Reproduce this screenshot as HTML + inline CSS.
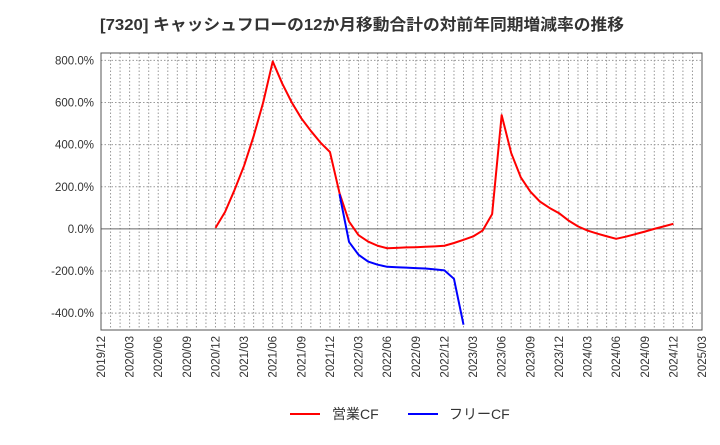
<!DOCTYPE html>
<html><head><meta charset="utf-8"><style>
body{margin:0;background:#fff;font-family:"Liberation Sans","Noto Sans CJK JP",sans-serif;}
</style></head><body>
<svg width="720" height="440" xmlns="http://www.w3.org/2000/svg" id="c" font-family="Liberation Sans, Noto Sans CJK JP, sans-serif">
<text x="100" y="30" font-size="16" font-weight="bold" fill="#333" textLength="524" lengthAdjust="spacingAndGlyphs">[7320]  キャッシュフローの12か月移動合計の対前年同期増減率の推移</text>
<g id="grid"></g><g id="axes"></g><g id="series"></g>
<g>
<line x1="290" y1="414" x2="320" y2="414" stroke="#f00" stroke-width="2"/>
<text x="332" y="419" font-size="14" fill="#333">営業CF</text>
<line x1="408" y1="414" x2="438" y2="414" stroke="#00f" stroke-width="2"/>
<text x="449" y="419" font-size="14" fill="#333">フリーCF</text>
</g>
</svg>
<script>
const xLabels=["2019/12","2020/03","2020/06","2020/09","2020/12","2021/03","2021/06","2021/09","2021/12","2022/03","2022/06","2022/09","2022/12","2023/03","2023/06","2023/09","2023/12","2024/03","2024/06","2024/09","2024/12","2025/03"];
const yTicks=[800,600,400,200,0,-200,-400];
const opStart=12;
const opValues=[5,80,185,300,440,600,795,690,600,525,465,410,365,170,35,-30,-60,-80,-92,-90,-88,-87,-85,-83,-80,-67,-52,-36,-8,70,540,360,245,177,130,100,75,40,12,-8,-22,-35,-47,-37,-25,-13,0,12,24];
const fcfStart=25;
const fcfValues=[165,-62,-123,-155,-170,-180,-182,-184,-186,-188,-192,-197,-237,-455];
const L=101,R=702,T=53,B=330,ymin=-480,ymax=835,nM=63;
const X=m=>L+(R-L)*m/nM, Y=v=>B-(B-T)*(v-ymin)/(ymax-ymin);
const ns="http://www.w3.org/2000/svg";
function mk(p,t,a){const e=document.createElementNS(ns,t);for(const k in a)e.setAttribute(k,a[k]);p.appendChild(e);return e;}
const g=document.getElementById('grid'),ax=document.getElementById('axes'),s=document.getElementById('series');
for(let m=1;m<nM;m++){const l=mk(g,'line',{x1:X(m),x2:X(m),y1:T,y2:B,stroke:'#999','stroke-dasharray':'1.5,2','stroke-width':1});

}
yTicks.forEach(v=>{const l=mk(g,'line',{x1:L,x2:R,y1:Y(v),y2:Y(v),stroke:v===0?'#666':'#999','stroke-dasharray':v===0?'none':'1.5,2','stroke-width':1});


const t=mk(ax,'text',{x:L-7,y:Y(v)+4,'text-anchor':'end','font-size':11.5,fill:'#333'});t.textContent=v.toFixed(1)+'%';

});
const fr=mk(ax,'rect',{x:L,y:T,width:R-L,height:B-T,fill:'none',stroke:'#555'});


xLabels.forEach((lb,i)=>{const x=X(i*3);const t=mk(ax,'text',{transform:`translate(${x+4},${B+6}) rotate(-90)`,'text-anchor':'end','font-size':11.5,fill:'#333'});t.textContent=lb;

});
function line(vals,st,col,name){const p=mk(s,'polyline',{points:vals.map((v,i)=>X(st+i)+','+Y(v)).join(' '),fill:'none',stroke:col,'stroke-width':2,'stroke-linejoin':'round'});

}
line(opValues,opStart,'#f00','operating-cf-line');
line(fcfValues,fcfStart,'#00f','free-cf-line');
</script>
</body></html>
